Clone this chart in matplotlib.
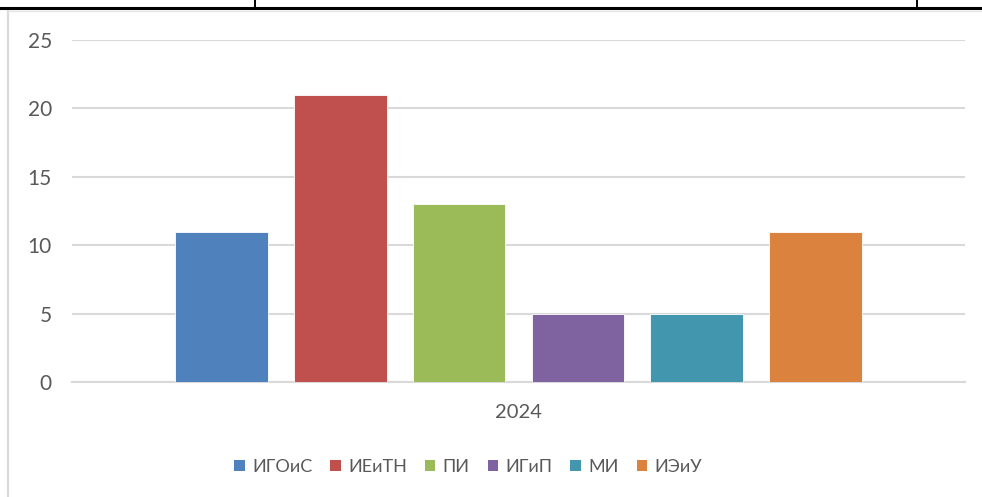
import matplotlib
matplotlib.use('Agg')
import matplotlib.pyplot as plt
from matplotlib.patches import Patch
from matplotlib.lines import Line2D

# chart data
institutes = ['ИГОиС', 'ИЕиТН', 'ПИ', 'ИГиП', 'МИ', 'ИЭиУ']
counts = [11, 21, 13, 5, 5, 11]
colors = ['#4F81BD', '#C0504D', '#9BBB59', '#7F62A0', '#4297AF', '#DB823F']
year_label = '2024'
yticks = [0, 5, 10, 15, 20, 25]

W, H = 982, 497
plt.rcParams['font.family'] = ['Lato', 'DejaVu Sans']
text_color = '#595959'
grid_color = '#D9D9D9'

fig = plt.figure(figsize=(W / 100, H / 100), dpi=100)


def fx(px):
    return px / W


def fy(py):
    return 1 - py / H


# axes placed in pixel coordinates of the reference
ax = fig.add_axes([fx(72), fy(382), fx(965) - fx(72), fy(40) - fy(382)])

xpos = list(range(len(institutes)))
ax.bar(xpos, counts, width=0.78, color=colors, edgecolor='white', linewidth=0.6, zorder=3)

ax.set_ylim(0, 25)
ax.set_xlim(-1.256, len(institutes) - 1 + 1.256)
ax.set_yticks(yticks)
ax.set_yticklabels([str(v) for v in yticks])
ax.set_xticks([(len(institutes) - 1) / 2])
ax.set_xticklabels([year_label])
ax.tick_params(axis='y', length=0, pad=14.4, labelsize=15, labelcolor=text_color)
ax.tick_params(axis='x', length=0, pad=16, labelsize=14.5, labelcolor=text_color)
ax.grid(axis='y', color=grid_color, linewidth=1.5, zorder=0)
for s in ['top', 'right', 'left']:
    ax.spines[s].set_visible(False)
ax.spines['bottom'].set_color(grid_color)
ax.spines['bottom'].set_linewidth(1.5)

# legend
handles = [Patch(facecolor=c, edgecolor='none') for c in colors]
leg = fig.legend(handles, institutes, loc='center', bbox_to_anchor=(fx(468), fy(467)),
                 ncol=len(institutes), frameon=False, fontsize=13,
                 handlelength=0.58, handleheight=0.58, handletextpad=0.4,
                 columnspacing=1.0, labelcolor=text_color)

# surrounding document frame: chart border and table lines
fig.add_artist(Line2D([fx(8), fx(8)], [fy(11), fy(497)], color=grid_color, linewidth=1.5))
fig.add_artist(Line2D([fx(8), fx(982)], [fy(11), fy(11)], color='#E6E6E6', linewidth=1.0))
fig.add_artist(Line2D([0, 1], [fy(8), fy(8)], color='black', linewidth=2.2))
fig.add_artist(Line2D([fx(255), fx(255)], [fy(8), 1], color='black', linewidth=1.4))
fig.add_artist(Line2D([fx(917), fx(917)], [fy(8), 1], color='black', linewidth=1.4))

fig.savefig('out.png', dpi=100)
